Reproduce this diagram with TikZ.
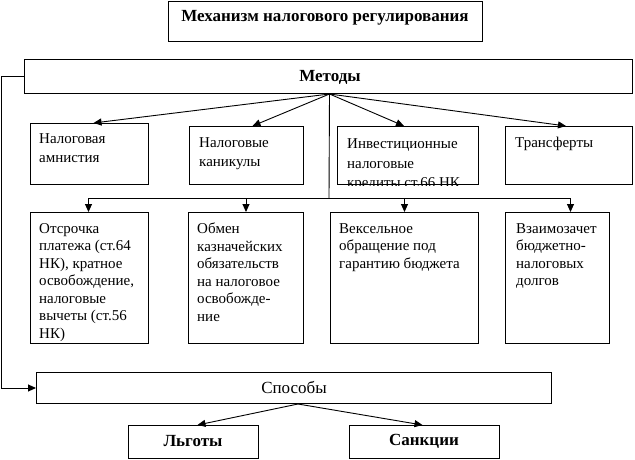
\documentclass[tikz,border=0pt]{standalone}
\usepackage{fontspec}
\setmainfont{Liberation Serif}
\usetikzlibrary{arrows.meta,calc}
\begin{document}
\begin{tikzpicture}[x=1pt,y=-1pt,
  box/.style={draw,line width=1pt,inner sep=0pt,anchor=north west},
  txt/.style={inner sep=0pt,anchor=north west,align=left},
  arr/.style={line width=0.9pt,-{Triangle[length=8pt,width=7pt]}},
  ln/.style={line width=0.9pt},
  f15/.style={font=\fontsize{15}{17.5}\selectfont},
  f15a/.style={font=\fontsize{15}{19.5}\selectfont},
  fb/.style={font=\fontsize{17}{20}\selectfont\bfseries}]
\useasboundingbox (0,0) rectangle (635,460);
% boxes
\node[box,minimum width=314pt,minimum height=40pt] (title) at (168,1) {};
\node[fb] (titletxt) at (325,18) {Механизм налогового регулирования};
\node[box,minimum width=608pt,minimum height=34pt] (methods) at (24,59) {};
\node[fb] (methodstxt) at (330,77) {Методы};
\node[box,minimum width=118pt,minimum height=61pt] (b1) at (30,123) {};
\node[box,minimum width=114pt,minimum height=58pt] (b2) at (189,126) {};
\node[box,minimum width=141pt,minimum height=58pt] (b3) at (337,126) {};
\node[box,minimum width=127pt,minimum height=58pt] (b4) at (505,126) {};
\node[txt,f15a] (t1) at (39,133) {Налоговая\\амнистия};
\node[txt,f15a] (t2) at (199,137) {Налоговые\\каникулы};
\begin{scope}
\clip (b3.north west) rectangle (b3.south east);
\node[txt,f15a] (t3) at (347,138.5) {Инвестиционные\\налоговые\\кредиты ст.66 НК};
\end{scope}
\node[txt,f15a] (t4) at (515,137) {Трансферты};
\node[box,minimum width=118pt,minimum height=131pt] (c1) at (30,212) {};
\node[box,minimum width=115pt,minimum height=131pt] (c2) at (188,212) {};
\node[box,minimum width=148pt,minimum height=131pt] (c3) at (330,212) {};
\node[box,minimum width=104pt,minimum height=131pt] (c4) at (505,212) {};
\node[txt,f15] (u1) at (39,223) {Отсрочка\\платежа (ст.64\\НК), кратное\\освобождение,\\налоговые\\вычеты (ст.56\\НК)};
\node[txt,f15] (u2) at (197,223) {Обмен\\казначейских\\обязательств\\на налоговое\\освобожде-\\ние};
\node[txt,f15] (u3) at (339,223) {Вексельное\\обращение под\\гарантию бюджета};
\node[txt,f15] (u4) at (516,223) {Взаимозачет\\бюджетно-\\налоговых\\долгов};
\node[box,minimum width=515pt,minimum height=31pt] (spos) at (36,372) {};
\node[font=\fontsize{17}{20}\selectfont] (spostxt) at (294,387) {Способы};
\node[box,minimum width=130pt,minimum height=33pt] (lg) at (128,425) {};
\node[fb] (lgtxt) at (193,441) {Льготы};
\node[box,minimum width=150pt,minimum height=33pt] (sk) at (349,425) {};
\node[fb] (sktxt) at (424,441) {Санкции};
% connectors
\coordinate (fan) at ([xshift=1pt]methods.south);
\draw[arr] (fan) -- ([xshift=4pt]b1.north);
\draw[arr] (fan) -- ([xshift=6pt]b2.north);
\draw[arr] (fan) -- ([xshift=-4pt]b3.north);
\draw[arr] (fan) -- ([xshift=-3pt]b4.north);
\coordinate (hub) at (329,198);
\draw[ln] (fan) -- (hub);
\draw[arr] (hub) -| ([xshift=-1pt]c1.north);
\draw[arr] (hub) -| (c2.north);
\draw[arr] (hub) -| (c3.north);
\draw[arr] (hub) -| ([xshift=13pt]c4.north);
\draw[arr] (methods.west) -- ++(-23,0) |- (spos.west);
\coordinate (sfan) at ([xshift=4pt]spos.south);
\draw[arr] (sfan) -- ([xshift=4pt]lg.north);
\draw[arr] (sfan) -- ([xshift=-2pt]sk.north);
\end{tikzpicture}
\end{document}
